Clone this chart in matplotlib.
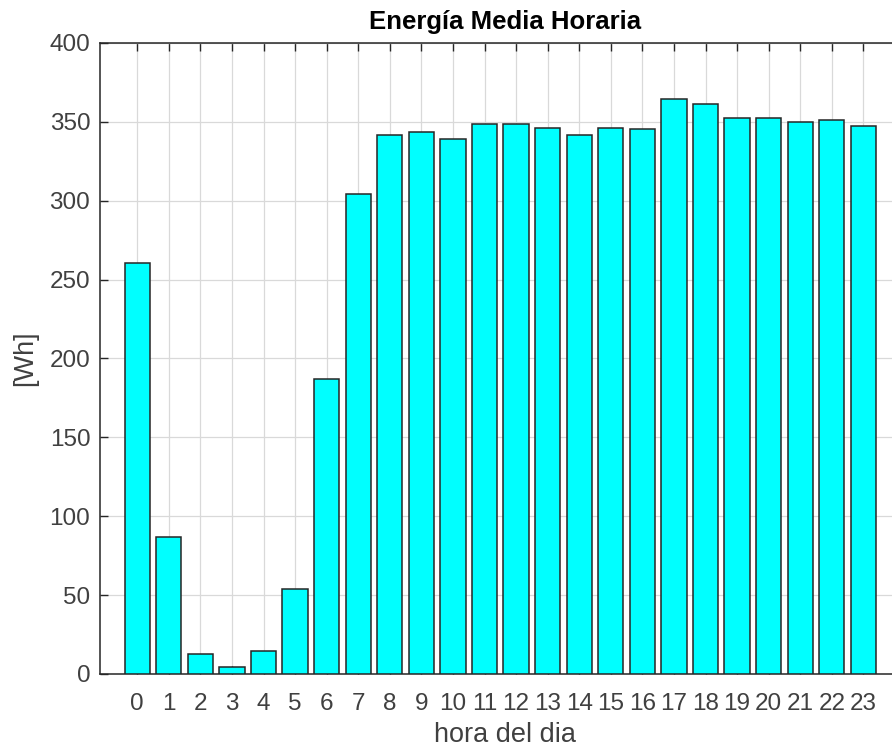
import matplotlib
matplotlib.use("Agg")
import matplotlib.pyplot as plt

plt.rcParams['font.family'] = ['Liberation Sans', 'DejaVu Sans']

horas = list(range(24))
energia_wh = [260.3, 87, 12.7, 4.5, 14.8, 54, 187, 304.3, 341.7, 343.6, 339, 348.5,
              348.5, 346.3, 341.9, 346.3, 345.5, 364.3, 361.5, 352.3, 352.3, 350.1,
              351.2, 347.4]
yticks = [0, 50, 100, 150, 200, 250, 300, 350, 400]

txt = '#404040'
XMIN, XMAX = -1.18, 24.5
PX_PER_UNIT = 31.57

fig = plt.figure(figsize=(8.92, 7.5), dpi=100)
ax_w = (XMAX - XMIN) * PX_PER_UNIT
ax = fig.add_axes([100 / 892, 1 - 674 / 750, ax_w / 892, 631 / 750])

ax.bar(horas, energia_wh, width=0.8, color='#00FFFF', edgecolor='#262626',
       linewidth=1.1, zorder=3)

ax.set_xlim(XMIN, XMAX)
ax.set_ylim(0, 400)
ax.set_xticks(horas)
ax.set_xticklabels([str(h) for h in horas])
ax.set_yticks(yticks)

ax.grid(True, color='#d9d9d9', linewidth=0.9, zorder=0)
ax.set_axisbelow(True)

ax.tick_params(axis='both', direction='in', length=6, width=1, color='#262626',
               labelsize=17.5, labelcolor=txt, top=True, right=False)
ax.tick_params(axis='x', pad=14)
ax.tick_params(axis='y', pad=7)

for side in ['left', 'top', 'bottom']:
    ax.spines[side].set_color('#262626')
    ax.spines[side].set_linewidth(1.1)
ax.spines['right'].set_visible(False)

ax.set_title('Energía Media Horaria', fontsize=18.5, fontweight='bold',
             color='#000000', pad=10)
ax.set_xlabel('hora del dia', fontsize=19.5, color=txt, labelpad=5)
ax.set_ylabel('[Wh]', fontsize=19.5, color=txt, labelpad=8)

fig.savefig('out.png', dpi=100)
